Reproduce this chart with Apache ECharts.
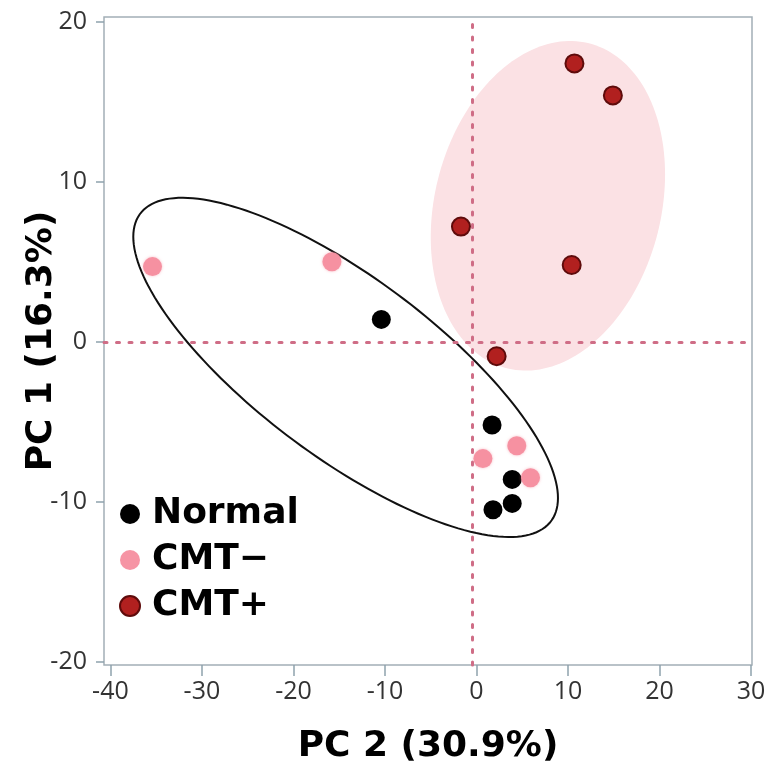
<!DOCTYPE html>
<html>
<head>
<meta charset="utf-8">
<script src="https://cdn.jsdelivr.net/npm/echarts@6/dist/echarts.min.js"></script>
<style>
  html, body { margin: 0; padding: 0; background: #fff; }
  #chart { width: 774px; height: 771px; }
</style>
</head>
<body>
<div id="chart"></div>
<script>
  // scores (PC 2 on x, PC 1 on y)
  const normalX = [-10.4, 1.7, 3.9, 3.9, 1.8];
  const normalY = [1.4, -5.2, -8.6, -10.1, -10.5];
  const cmtMinusX = [-35.4, -15.8, 4.4, 0.7, 5.9];
  const cmtMinusY = [4.7, 5.0, -6.5, -7.3, -8.5];
  const cmtPlusX = [10.7, 14.9, -1.7, 10.4, 2.2];
  const cmtPlusY = [17.4, 15.4, 7.2, 4.8, -0.9];

  // ellipses: centre x, centre y, half width, half height, correlation
  const normalEllipse = [-14.3, -1.6, 23.2, 10.6, -0.77];
  const cmtPlusEllipse = [7.8, 8.5, 12.8, 10.3, 0.19];

  const xTicks = [-40, -30, -20, -10, 0, 10, 20, 30];
  const yTicks = [-20, -10, 0, 10, 20];
  const refX = -0.45;
  const refY = 0;

  const boldFont = 'DejaVu Sans';
  const tickFont = 'Open Sans';

  const zip = (xs, ys) => xs.map((x, i) => [x, ys[i]]);

  function ellipseItem(style) {
    return function (params, api) {
      const cx = api.value(0), cy = api.value(1);
      const rx = api.value(2), ry = api.value(3), r = api.value(4);
      const k = Math.sqrt(1 - r * r);
      const points = [];
      for (let i = 0; i < 180; i++) {
        const t = i / 180 * Math.PI * 2;
        const c = Math.cos(t), s = Math.sin(t);
        points.push(api.coord([cx + rx * c, cy + ry * (r * c + k * s)]));
      }
      return {type: 'polygon', shape: {points: points}, style: style};
    };
  }

  const chart = echarts.init(document.getElementById('chart'), null, {renderer: 'canvas'});

  const option = {
    animation: false,
    grid: {
      left: 104, right: 22, top: 17, bottom: 106,
      show: true,
      borderColor: '#a3afb6',
      borderWidth: 1.5
    },
    legend: {
      orient: 'vertical',
      left: 114,
      top: 491,
      itemWidth: 34,
      itemHeight: 20,
      itemGap: 10,
      icon: 'circle',
      data: ['Normal', 'CMT−', 'CMT+'],
      textStyle: {fontFamily: boldFont, fontWeight: 'bold', fontSize: 36, lineHeight: 36, color: '#000'}
    },
    xAxis: {
      type: 'value',
      min: -40.7,
      max: 30.1,
      name: 'PC 2 (30.9%)',
      nameLocation: 'middle',
      nameGap: 64,
      nameMoveOverlap: false,
      nameTextStyle: {fontFamily: boldFont, fontWeight: 'bold', fontSize: 36, color: '#000'},
      axisLine: {show: false, onZero: false},
      splitLine: {show: false},
      axisTick: {customValues: xTicks, length: 11, lineStyle: {color: '#8fa2ad', width: 1.5}},
      axisLabel: {customValues: xTicks, fontFamily: tickFont, fontSize: 25, color: '#333', margin: 14}
    },
    yAxis: {
      type: 'value',
      min: -20.2,
      max: 20.3,
      name: 'PC 1 (16.3%)',
      nameLocation: 'middle',
      nameGap: 44,
      nameMoveOverlap: false,
      nameTextStyle: {fontFamily: boldFont, fontWeight: 'bold', fontSize: 36, color: '#000'},
      axisLine: {show: false, onZero: false},
      splitLine: {show: false},
      axisTick: {customValues: yTicks, length: 8, lineStyle: {color: '#8fa2ad', width: 1.5}},
      axisLabel: {customValues: yTicks, fontFamily: tickFont, fontSize: 25, color: '#333', margin: 17}
    },
    series: [
      {
        type: 'custom',
        name: 'cmtPlusEllipse',
        z: 1,
        silent: true,
        renderItem: ellipseItem({fill: '#fbe1e4', stroke: null}),
        data: [cmtPlusEllipse]
      },
      {
        type: 'scatter',
        name: 'ref',
        z: 2,
        data: [],
        markLine: {
          silent: true,
          symbol: 'none',
          label: {show: false},
          lineStyle: {color: '#cf6d86', width: 3, type: [3, 9.5], cap: 'round'},
          data: [{yAxis: refY}, {xAxis: refX}]
        }
      },
      {
        type: 'custom',
        name: 'normalEllipse',
        z: 3,
        silent: true,
        renderItem: ellipseItem({fill: null, stroke: '#111', lineWidth: 2}),
        data: [normalEllipse]
      },
      {
        type: 'scatter',
        name: 'Normal',
        z: 5,
        symbolSize: 19,
        itemStyle: {color: '#000', opacity: 1},
        data: zip(normalX, normalY)
      },
      {
        type: 'scatter',
        name: 'CMT−',
        z: 5,
        symbolSize: 19,
        itemStyle: {color: '#f58e9f', opacity: 0.95, shadowBlur: 3, shadowColor: 'rgba(245,142,159,0.6)'},
        data: zip(cmtMinusX, cmtMinusY)
      },
      {
        type: 'scatter',
        name: 'CMT+',
        z: 5,
        symbolSize: 18,
        itemStyle: {color: '#b1201f', borderColor: '#5e0b0b', borderWidth: 2, opacity: 1},
        data: zip(cmtPlusX, cmtPlusY)
      }
    ]
  };

  chart.setOption(option);
</script>
</body>
</html>
